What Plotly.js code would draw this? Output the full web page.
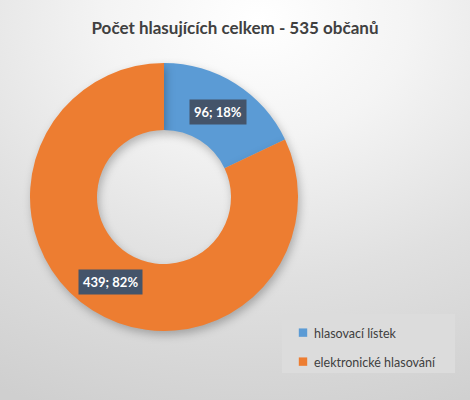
<!DOCTYPE html>
<html>
<head>
<meta charset="utf-8">
<script src="https://cdn.plot.ly/plotly-3.0.1.min.js"></script>
<style>
html,body{margin:0;padding:0;}
body{width:470px;height:400px;overflow:hidden;
background:radial-gradient(ellipse 115% 105% at 55% 5%, #ffffff 0%, #f4f4f4 28%, #e0e0e0 62%, #cfcfcf 100%);}
#chart{width:470px;height:400px;}
.pielayer .slice path{filter:drop-shadow(2px 4px 4px rgba(0,0,0,0.25));}
</style>
</head>
<body>
<div id="chart"></div>
<script>
var titleText = 'Počet hlasujících celkem - 535 občanů';
var categories = ['hlasovací lístek', 'elektronické hlasování'];
var values = [96, 439];
var colors = ['#5B9BD5', '#ED7D31'];

var domX = [30/470, 298/470];
var domY = [1 - 331/400, 1 - 63/400];
var hole = 0.5;

var total = values.reduce(function(a,b){return a+b;},0);
var W = 470, H = 400;
var cx = (domX[0]+domX[1])/2*W, cy = (1-(domY[0]+domY[1])/2)*H;
var R = Math.min((domX[1]-domX[0])*W, (domY[1]-domY[0])*H)/2;
var rMid = R*(1+hole)/2;

var annotations = [];
var cum = 0;
for (var i=0;i<values.length;i++){
  var frac = values[i]/total;
  var mid = (cum + frac/2)*2*Math.PI;
  cum += frac;
  var px = cx + rMid*Math.sin(mid);
  var py = cy - rMid*Math.cos(mid);
  annotations.push({
    x: px/W, y: 1-py/H, xref:'paper', yref:'paper',
    text: values[i] + '; ' + Math.round(frac*100) + '%',
    showarrow:false, bgcolor:'#44546A', borderpad:4,
    font:{family:'Lato, sans-serif', size:13, color:'#ffffff', weight:'bold'},
    xanchor:'center', yanchor:'middle'
  });
}

var data = [{
  type:'pie',
  labels: categories,
  values: values,
  hole: hole,
  sort:false,
  direction:'clockwise',
  rotation:0,
  marker:{colors:colors, line:{width:0}},
  textinfo:'none',
  hoverinfo:'label+value+percent',
  domain:{x:domX, y:domY}
}];

var layout = {
  width:470, height:400,
  margin:{l:0,r:0,t:0,b:0},
  paper_bgcolor:'rgba(0,0,0,0)',
  plot_bgcolor:'rgba(0,0,0,0)',
  title:{text:titleText, x:0.5, xanchor:'center', y:1-28/400, yanchor:'middle',
    font:{family:'Lato, sans-serif', size:17, color:'#404040', weight:'bold'}},
  showlegend:true,
  legend:{x:274/470, y:1-318/400, xanchor:'left', yanchor:'top',
    bgcolor:'rgba(0,0,0,0)', borderwidth:0,
    font:{family:'Lato, sans-serif', size:12.5, color:'#404040'},
    traceorder:'normal'},
  shapes:[{type:'rect', xref:'paper', yref:'paper', layer:'below',
    x0:282/470, x1:455/470, y0:1-373/400, y1:1-314/400,
    fillcolor:'#dcdcdc', line:{width:0}}],
  annotations: annotations
};

Plotly.newPlot('chart', data, layout, {displayModeBar:false, staticPlot:true}).then(function(gd){
  var items = gd.querySelectorAll('.legend .traces');
  if (items.length < 2) return;
  var m = /translate\(\s*([-\d.]+)[ ,]+([-\d.]+)\s*\)/.exec(items[0].getAttribute('transform') || '');
  var x0 = m ? parseFloat(m[1]) : 0, y0 = m ? parseFloat(m[2]) : 0;
  for (var k=0;k<items.length;k++){
    items[k].setAttribute('transform','translate('+x0+','+(y0+k*29)+')');
    var pts = items[k].querySelectorAll('.legendpoints path');
    pts.forEach(function(p){
      var t = p.getAttribute('transform') || '';
      p.setAttribute('transform', 'translate(9,0) ' + t + ' scale(0.7)');
    });
  }
});
</script>
</body>
</html>
